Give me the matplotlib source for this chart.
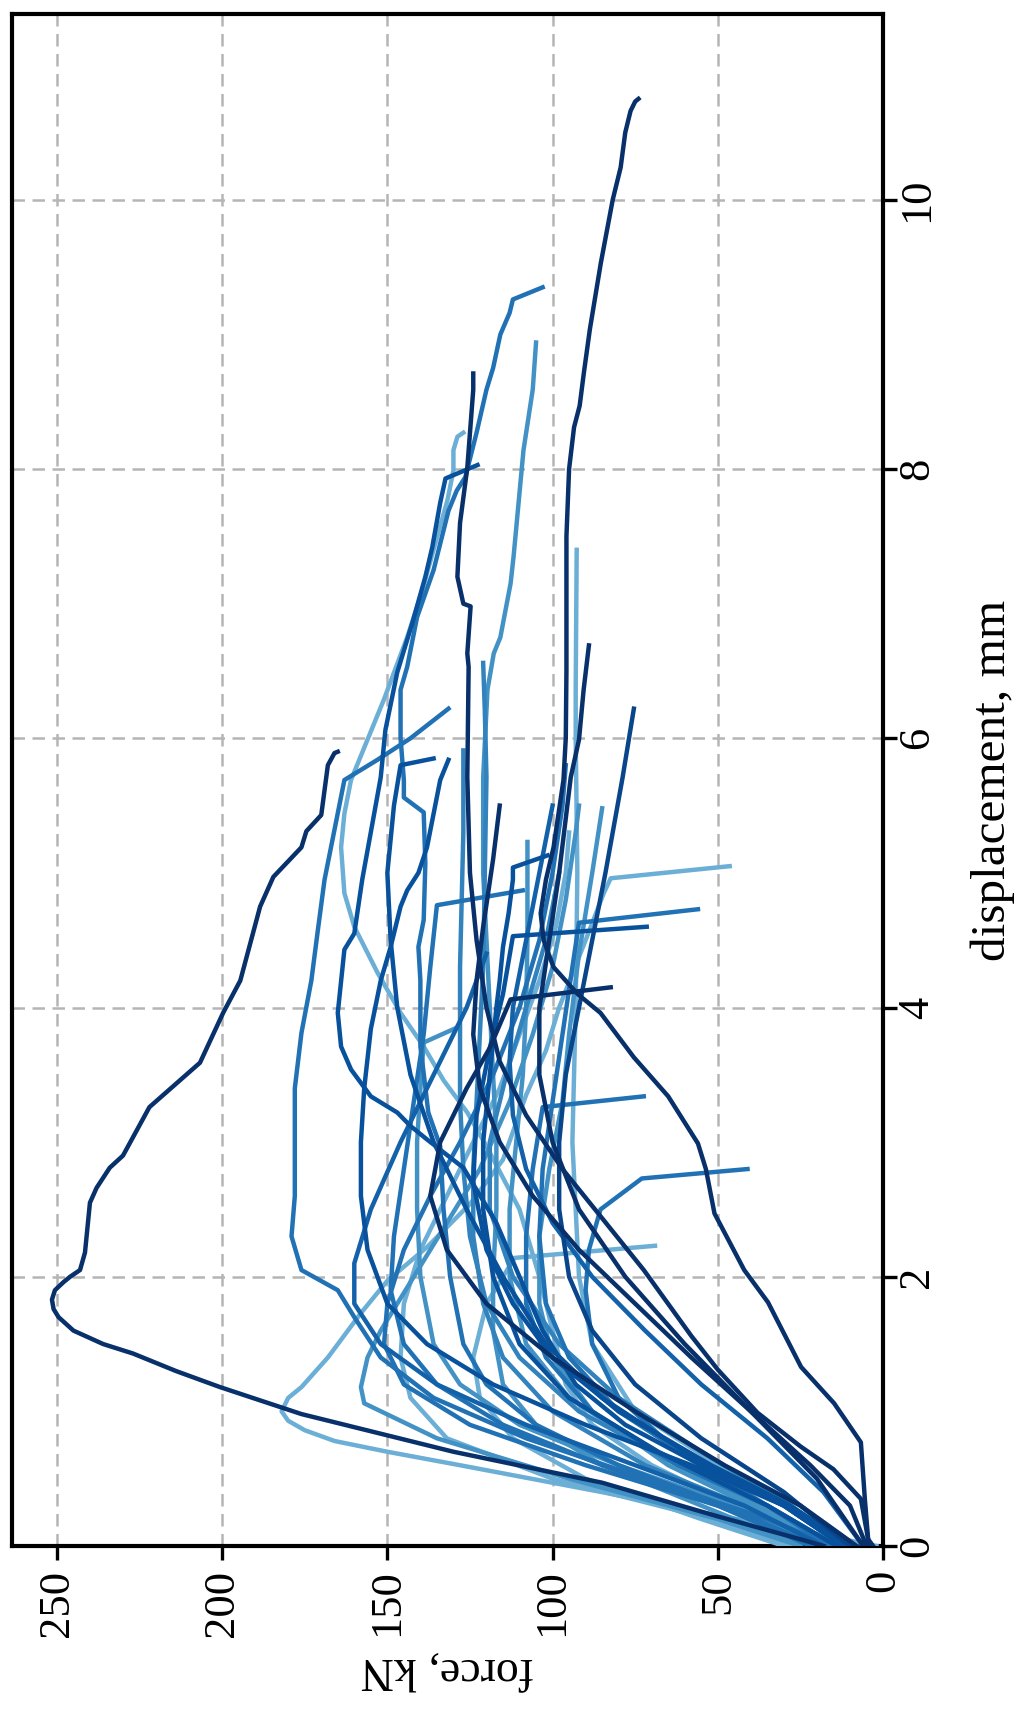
import matplotlib
matplotlib.use("Agg")
import matplotlib.pyplot as plt

# displacement (mm) / force (kN) pairs, one pair of lists per specimen
disp_big = [0, 0.05, 0.22, 0.47, 0.7, 0.98, 1.18, 1.3, 1.43, 1.5, 1.6, 1.7, 1.76, 1.83, 1.9, 1.96, 2.0, 2.05, 2.18, 2.55, 2.66, 2.81, 2.9, 3.26, 3.59, 3.96, 4.2, 4.75, 4.97, 5.19, 5.31, 5.43, 5.8, 5.89, 5.9]
force_big = [18, 25, 50, 85, 130, 176, 200.6, 214, 227, 236, 245, 249.5, 251, 251.5, 250.6, 248, 246, 243, 241.5, 240, 238, 234, 230, 222, 206.7, 199.7, 194.5, 188.5, 184.5, 176, 174.5, 170, 168, 166, 165]

disp_long = [0, 0.05, 0.35, 0.77, 1.06, 1.33, 1.81, 2.05, 2.47, 2.8, 2.99, 3.34, 3.63, 3.96, 4.1, 4.3, 4.5, 4.7, 4.95, 5.19, 5.69, 6.0, 6.5, 7.0, 7.5, 8.0, 8.31, 8.47, 8.72, 9.04, 9.53, 10.0, 10.24, 10.5, 10.66, 10.73, 10.75]
force_long = [3, 4.5, 5.5, 6.7, 14.8, 24.8, 34.8, 42, 51, 53.6, 56, 65, 75.4, 85.5, 92.4, 99.7, 102.7, 103.6, 102, 99.7, 96.7, 96, 95.8, 95.8, 95.8, 95, 93.5, 91.8, 90.5, 88.7, 85.4, 81.8, 79.4, 78, 76.4, 75, 74]

disp_03 = [0, 0.1, 0.25, 0.4, 0.6, 0.7, 0.78, 0.86, 0.93, 1.0, 1.1, 1.18, 1.4, 1.73, 1.97, 2.22, 2.54, 2.87, 3.35, 3.68, 4.0, 4.5, 4.85, 4.96, 5.05]
force_03 = [2, 22, 55, 85, 128, 150, 166, 175, 180, 182, 180, 176, 168, 158, 150, 138, 125, 115, 108, 102, 98, 90, 84.5, 82.4, 46.4]

disp_04 = [0, 0.2, 0.5, 0.8, 1.1, 1.4, 1.7, 1.9, 2.05, 2.3, 2.6, 3.0, 3.4, 3.81, 4.2, 4.58, 4.95, 5.32, 5.69, 5.84, 6.0, 6.22]
force_04 = [15, 35, 72, 108, 136, 152, 160, 165, 176, 179, 178, 178, 178, 176, 173, 171, 169, 166, 163, 153, 143, 131.5]

disp_05 = [0, 0.3, 0.6, 0.9, 1.2, 1.6, 2.0, 2.5, 2.97, 3.22, 3.46, 3.71, 3.96, 4.26, 4.6, 4.85, 5.19, 5.44, 5.69, 6.29, 6.75, 7.05, 7.77, 7.99, 8.14, 8.24, 8.27]
force_05 = [25, 45, 70, 88, 96, 100, 104, 110, 120, 125.8, 133, 139, 146, 153, 160, 163, 164, 163, 161, 151, 144, 140, 131.8, 130, 130, 128.8, 127]

disp_06 = [0, 0.3, 0.6, 0.9, 1.2, 1.6, 2.0, 2.4, 2.81, 3.02, 3.12, 3.22, 3.34, 3.54, 3.71, 3.96, 4.43, 4.55, 4.95, 5.37, 5.71, 6.06, 6.49, 6.86, 7.2, 7.42, 7.75, 7.93, 8.03]
force_06 = [12, 30, 55, 78, 93, 103, 110, 117, 127, 138, 143, 147, 155, 161, 164, 165, 163, 160, 157.6, 154.5, 152, 150.6, 147, 142.4, 138.5, 136.4, 134, 132.4, 122.7]

disp_07 = [0, 0.3, 0.6, 0.9, 1.2, 1.5, 2.0, 2.5, 2.97, 3.22, 3.51, 3.71, 4.2, 4.45, 4.65, 5.07, 5.45, 5.56, 5.69, 6.0, 6.36, 6.53, 6.9, 7.25, 7.69, 7.84, 7.94, 8.27, 8.59, 8.75, 9.0, 9.16, 9.26, 9.35]
force_07 = [20, 48, 80, 105, 120, 127, 131, 133, 134, 137.6, 139, 140, 140, 140.6, 139, 138.5, 139, 145, 145, 146, 146, 144, 141, 136, 131.5, 129, 126.4, 123, 120, 118, 115.8, 113, 112, 103]

disp_08 = [0, 0.05, 0.35, 0.57, 0.74, 0.99, 1.31, 1.56, 2.05, 2.45, 2.8, 3.2, 3.6, 4.0, 4.5, 5.0, 5.71, 6.53, 6.63, 6.98, 7.0, 7.2, 7.6, 8.01, 8.59, 8.71]
force_08 = [4, 4.5, 6.7, 15, 25, 38, 50, 58, 72.4, 85.5, 97, 108, 116, 120, 123, 125, 125.8, 125.4, 125.8, 124.8, 127, 128.8, 128, 125.8, 124, 124]

disp_09 = [0, 0.3, 0.6, 0.9, 1.2, 1.6, 2.0, 2.5, 3.0, 3.5, 4.0, 4.5, 5.0, 5.71, 6.36, 6.63, 6.75, 7.15, 7.35, 8.14, 8.59, 8.94]
force_09 = [25, 55, 85, 105, 115, 118, 118, 117, 117, 118, 119, 120, 121, 121, 119.7, 117.8, 115.8, 112.7, 111.8, 108.8, 106, 105]

disp_10 = [0, 0.3, 0.6, 1.0, 1.5, 2.0, 3.0, 4.0, 5.0, 6.0, 6.36, 7.4]
force_10 = [8, 25, 50, 75, 88, 92, 94, 93, 92.5, 93, 93, 92.7]

disp_11 = [0, 0.5, 1.0, 1.5, 2.0, 2.5, 3.0, 3.5, 4.0, 4.5, 5.0, 5.71, 5.99, 6.36, 6.69]
force_11 = [6, 20, 40, 60, 78, 92, 100, 104, 104, 101, 98, 94.5, 92, 90.6, 89]

disp_12 = [0, 0.4, 0.8, 1.2, 1.6, 2.0, 2.5, 3.0, 3.5, 4.0, 4.5, 5.0, 5.71, 6.22]
force_12 = [10, 30, 55, 75, 88, 95, 98, 98, 96, 92, 88, 84, 78.8, 75.4]

disp_13 = [0, 0.3, 0.6, 1.0, 1.4, 1.8, 2.3, 2.8, 3.3, 3.8, 4.4, 5.0, 5.48]
force_13 = [18, 40, 65, 88, 100, 104, 104, 101, 97, 95, 92, 88, 85]

disp_14 = [0, 0.3, 0.7, 1.1, 1.5, 2.0, 2.5, 3.0, 3.5, 4.0, 4.5, 5.23]
force_14 = [15, 38, 70, 95, 108, 113, 113, 111, 109, 108, 107.6, 107.6]

disp_15 = [0, 0.3, 0.7, 1.1, 1.5, 2.0, 2.5, 3.0, 3.5, 4.0, 4.2, 4.45, 4.7, 4.95, 5.04, 5.13]
force_15 = [14, 35, 68, 95, 110, 118, 121, 121, 119, 117, 116, 115, 113.3, 112, 112, 101.5]

disp_16 = [0, 0.3, 0.6, 0.9, 1.2, 1.5, 1.9, 2.3, 2.8, 3.3, 3.8, 4.3, 4.76, 4.87]
force_16 = [22, 50, 85, 115, 135, 145, 149, 148, 145, 142, 139, 137, 135, 109]

disp_17 = [0, 0.3, 0.6, 1.0, 1.4, 1.8, 2.3, 2.8, 3.3, 3.8, 4.3, 4.63, 4.73]
force_17 = [12, 30, 55, 80, 95, 102, 104, 103, 100, 97, 94, 92, 56]

disp_18 = [0, 0.3, 0.6, 1.0, 1.4, 1.8, 2.2, 2.7, 3.2, 3.7, 4.1, 4.53, 4.6]
force_18 = [10, 28, 52, 80, 100, 112, 120, 124, 123, 119, 115, 112, 71.5]

disp_19 = [0, 0.3, 0.6, 1.0, 1.4, 1.8, 2.2, 2.6, 3.0, 3.4, 3.7, 4.06, 4.15]
force_19 = [8, 25, 48, 75, 100, 120, 132, 137, 134, 126, 119, 112.7, 82.4]

disp_20 = [0, 0.3, 0.6, 0.9, 1.2, 1.5, 2.0, 2.5, 3.0, 3.4, 3.74, 3.85]
force_20 = [20, 45, 80, 110, 128, 136, 140, 141, 141, 140, 139, 129]

disp_21 = [0, 0.3, 0.6, 1.0, 1.4, 1.8, 2.3, 2.8, 3.26, 3.34]
force_21 = [15, 35, 62, 88, 102, 108, 108, 106, 103, 72.4]

disp_22 = [0, 0.3, 0.7, 1.1, 1.5, 1.9, 2.2, 2.5, 2.73, 2.8]
force_22 = [16, 35, 62, 80, 88, 90, 89, 85.5, 73, 41]

disp_23 = [0, 0.2, 0.5, 0.8, 1.1, 1.4, 1.8, 2.14, 2.23]
force_23 = [30, 55, 90, 112, 122, 124, 120, 111.5, 69]

disp_24 = [0, 0.3, 0.6, 1.0, 1.4, 1.8, 2.3, 2.8, 3.3, 3.8, 4.3, 5.0, 5.71, 6.2, 6.56]
force_24 = [18, 42, 72, 100, 115, 121, 124, 124, 123, 122, 121, 120.5, 120, 120.5, 121]

disp_25 = [0, 0.3, 0.6, 0.9, 1.2, 1.5, 1.8, 2.2, 2.6, 3.0, 3.4, 3.84, 4.2, 4.45, 4.75, 4.87, 5.0, 5.19, 5.44, 5.69, 5.84]
force_25 = [10, 30, 58, 90, 118, 138, 150, 156, 158, 158, 157, 155, 152, 149, 146, 144, 140.6, 138, 136, 134, 131.5]

disp_26 = [0, 0.3, 0.6, 1.0, 1.4, 1.8, 2.3, 2.8, 3.3, 3.8, 4.3, 4.8, 5.3, 5.91]
force_26 = [14, 35, 62, 92, 110, 120, 125, 127, 128, 128, 128, 127.5, 127, 127]

disp_27 = [0, 0.2, 0.5, 0.8, 1.06, 1.18, 1.4, 1.6, 2.0, 2.4, 2.8, 3.3, 3.8, 4.3, 4.8, 5.3, 5.5]
force_27 = [25, 50, 95, 135, 157, 158, 156, 152, 142, 132, 122, 113, 106, 100, 96, 93, 92]

disp_28 = [0, 0.3, 0.6, 0.9, 1.2, 1.5, 1.8, 2.2, 2.6, 3.0, 3.5, 4.0, 4.5, 5.0, 5.5, 5.8]
force_28 = [20, 50, 90, 125, 145, 151, 150, 145, 137, 128, 118, 110, 104, 100, 97, 96]

disp_29 = [0, 0.25, 0.5, 0.8, 1.1, 1.4, 1.8, 2.2, 2.6, 3.0, 3.4, 3.8, 4.2, 4.6, 5.0, 5.3]
force_29 = [28, 60, 100, 132, 143, 146, 145, 140, 132, 124, 116, 110, 104, 99, 96, 95]

disp_30 = [0, 0.3, 0.7, 1.1, 1.5, 2.0, 2.5, 3.0, 3.5, 4.0, 4.5, 5.0, 5.5, 5.8, 5.85]
force_30 = [12, 30, 60, 85, 102, 115, 126, 136, 143, 147, 149, 150, 148, 146, 136]

disp_31 = [0, 0.3, 0.7, 1.1, 1.5, 2.0, 2.5, 3.0, 3.5, 4.0, 4.5, 5.0]
force_31 = [10, 28, 55, 80, 98, 112, 119, 119, 114, 108, 102, 98]

disp_32 = [0, 0.4, 0.8, 1.2, 1.6, 2.0, 2.4, 2.8, 3.2, 3.6, 4.0, 4.5, 5.0, 5.5]
force_32 = [6, 18, 35, 55, 72, 88, 100, 108, 112, 113, 112, 108, 104, 100]

disp_33 = [0, 0.3, 0.6, 0.9, 1.2, 1.5, 1.8, 2.1, 2.5, 3.0, 3.5, 4.0, 4.4]
force_33 = [18, 42, 75, 108, 135, 152, 160, 160, 155, 146, 136, 126, 120]

disp_34 = [0, 0.3, 0.6, 1.0, 1.4, 1.8, 2.2, 2.6, 3.0, 3.4, 3.8, 4.2, 4.6, 5.1, 5.5]
force_34 = [5, 10, 22, 40, 58, 75, 92, 106, 116, 122, 124, 123, 121, 118, 116]

curves = [
    (disp_03, force_03), (disp_05, force_05), (disp_10, force_10), (disp_23, force_23), (disp_29, force_29),
    (disp_09, force_09), (disp_13, force_13), (disp_14, force_14), (disp_20, force_20), (disp_27, force_27),
    (disp_24, force_24), (disp_26, force_26), (disp_31, force_31),
    (disp_04, force_04), (disp_07, force_07), (disp_16, force_16), (disp_17, force_17), (disp_21, force_21),
    (disp_22, force_22), (disp_28, force_28), (disp_33, force_33), (disp_32, force_32),
    (disp_06, force_06), (disp_15, force_15), (disp_18, force_18), (disp_25, force_25), (disp_30, force_30),
    (disp_12, force_12),
    (disp_08, force_08), (disp_11, force_11), (disp_19, force_19), (disp_34, force_34),
    (disp_long, force_long), (disp_big, force_big),
]
colors = (
    ["#6baed6"] * 5
    + ["#4292c6"] * 5
    + ["#3182bd"] * 3
    + ["#2171b5"] * 7
    + ["#1361a9"] * 2
    + ["#08519c"] * 5
    + ["#08458a"]
    + ["#08306b"] * 6
)

plt.rcParams["font.family"] = "serif"
plt.rcParams["font.serif"] = ["Liberation Serif", "DejaVu Serif"]

fig = plt.figure(figsize=(10.22, 17.13), dpi=100)
ax = fig.add_axes([0.0117, 0.0975, 0.8523, 0.8943])

for (d, f), c in zip(curves, colors):
    ax.plot(f, d, color=c, lw=3.2, zorder=3)

ax.set_xlim(263.6, 0)
ax.set_ylim(0, 11.38)
ax.set_xticks([0, 50, 100, 150, 200, 250])
ax.set_yticks([0, 2, 4, 6, 8, 10])
ax.yaxis.tick_right()
ax.yaxis.set_label_position("right")
ax.tick_params(direction="out", length=10, width=2.4, labelsize=32)
ax.tick_params(axis="x", labelrotation=90, pad=7)
ax.tick_params(axis="y", labelrotation=90, pad=0)
for lab in ax.get_yticklabels():
    lab.set_verticalalignment("center")
ax.grid(True, ls=(0, (5, 3)), lw=1.8, color="#b5b5b5")
ax.set_axisbelow(True)
for s in ax.spines.values():
    s.set_linewidth(3)

ax.set_xlabel("force, kN", fontsize=33, rotation=180, labelpad=8)
ax.set_ylabel("displacement, mm", fontsize=35.5, rotation=90, labelpad=24)

fig.savefig("out.png", dpi=100)
